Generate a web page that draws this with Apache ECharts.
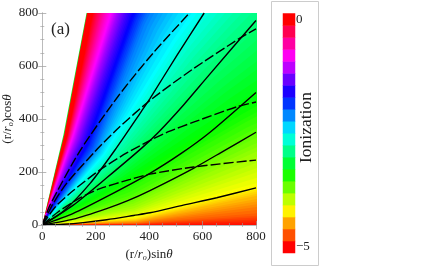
<!DOCTYPE html>
<html><head><meta charset="utf-8">
<style>html,body{margin:0;padding:0;background:#fff}#c{width:429px;height:267px}</style>
<script src="https://cdn.jsdelivr.net/npm/echarts@6/dist/echarts.min.js"></script></head>
<body><div id="c"></div><script>
// Ionization field: slope y/x of each level contour near r~350 and far r~850
const levels = [-3.2,0,
0,-0.05,-0.1,-0.15,-0.2,-0.25,-0.3,-0.35,-0.4,-0.45,
-0.5,-0.55,-0.6,-0.65,-0.7,-0.75,-0.8,-0.85,-0.9,-0.95,
-1,-1.05,-1.1,-1.15,-1.2,-1.25,-1.3,-1.35,-1.4,-1.45,
-1.5,-1.55,-1.6,-1.65,-1.7,-1.75,-1.8,-1.85,-1.9,-1.95,
-2,-2.05,-2.1,-2.15,-2.2,-2.25,-2.3,-2.35,-2.4,-2.45,
-2.5,-2.55,-2.6,-2.65,-2.7,-2.75,-2.8,-2.85,-2.9,-2.95,
-3,-3.05,-3.1,-3.15,-3.2,-3.25,-3.3,-3.35,-3.4,-3.45,
-3.5,-3.55,-3.6,-3.65,-3.7,-3.75,-3.8,-3.85,-3.9,-3.95,
-4,-4.05,-4.1,-4.15,-4.2,-4.25,-4.3,-4.35,-4.4,-4.45,
-4.5,-4.55,-4.6,-4.65,-4.7,-4.75,-4.8,-4.85,-4.9,-4.95,
-5];
const slopeNear = [4.3,4.15,
3.60,3.57,3.54,3.50,3.47,3.43,3.39,3.35,3.31,3.27,
3.24,3.19,3.15,3.10,3.06,3.02,2.98,2.92,2.87,2.80,
2.73,2.66,2.60,2.53,2.46,2.39,2.33,2.26,2.20,2.13,
2.06,2.00,1.93,1.86,1.80,1.75,1.71,1.66,1.61,1.56,
1.52,1.47,1.43,1.40,1.365,1.33,1.30,1.27,1.235,1.20,
1.17,1.13,1.09,1.05,1.02,0.98,0.95,0.90,0.86,0.82,
0.79,0.75,0.72,0.68,0.65,0.61,0.575,0.54,0.50,0.46,
0.42,0.38,0.34,0.31,0.285,0.26,0.235,0.21,0.185,0.165,
0.146,0.129,0.112,0.097,0.082,0.071,0.061,0.054,0.048,0.042,
0.037,0.031,0.026,0.021,0.017,0.014,0.011,0.008,0.005,0.002,
0];
const slopeFar = [4.85,4.8,
4.30,4.23,4.16,4.09,4.01,3.94,3.87,3.80,3.72,3.66,
3.59,3.52,3.46,3.39,3.33,3.26,3.19,3.13,3.08,3.03,
2.98,2.94,2.89,2.85,2.80,2.75,2.70,2.65,2.61,2.56,
2.51,2.46,2.41,2.37,2.32,2.28,2.24,2.20,2.15,2.11,
2.07,2.03,1.98,1.91,1.84,1.77,1.70,1.63,1.57,1.50,
1.43,1.38,1.33,1.28,1.22,1.17,1.12,1.07,1.02,0.97,
0.92,0.87,0.82,0.77,0.73,0.68,0.63,0.59,0.56,0.53,
0.51,0.48,0.455,0.43,0.41,0.385,0.365,0.345,0.32,0.295,
0.27,0.25,0.225,0.20,0.185,0.17,0.16,0.15,0.14,0.125,
0.113,0.10,0.087,0.072,0.057,0.045,0.036,0.027,0.018,0.009,
0];
// Colour bar cells
const barValues = [-5,-4.74,-4.47,-4.21,-3.95,-3.68,-3.42,-3.16,-2.89,-2.63,-2.37,-2.11,-1.84,-1.58,-1.32,-1.05,-0.79,-0.53,-0.26,0];
const barLabels = ['−5','','','','','','','','','','','','','','','','','','','0'];
// Curves
const solid1 = [[0,0],[80,3],[153,9],[241,20],[342,36],[403,46],[528,75],[653,103],[800,140]];
const solid2 = [[0,0],[116,22],[241,62],[320,92],[403,130],[566,214],[680,280],[800,350]];
const solid3 = [[0,0],[116,44],[241,107],[403,195],[520,270],[628,350],[800,500]];
const solid4 = [[0,0],[116,75],[241,178],[372,290],[435,350],[528,452],[616,556],[800,772]];
const solid5 = [[0,0],[79,52],[179,157],[272,283],[371,429],[403,477],[504,640],[606,800]];
const dash1 = [[0,0],[60,50],[141,102],[216,137],[329,172],[403,192],[566,219],[800,245]];
const dash2 = [[0,0],[50,70],[116,130],[216,208],[316,272],[415,325],[472,352],[566,388],[728,446],[800,464]];
const dash3 = [[0,0],[40,80],[91,157],[197,277],[284,365],[403,470],[560,586],[741,706],[800,740]];
const dash4 = [[0,0],[29,75],[140,278],[284,486],[415,649],[551,800]];

const wedgeData = levels.map((v,i)=>[slopeNear[i],slopeFar[i],v]);
const serif = '"Liberation Serif","Times New Roman",serif';
const onRay = (m,r)=>{const x=r/Math.sqrt(1+m*m);return [x,m*x];};
function renderWedge(params,api){
  const pts=[[0,0],onRay(api.value(0),350),onRay(api.value(1),850),onRay(api.value(1),3000),[3000,0]];
  return {type:'polygon',shape:{points:pts.map(p=>api.coord(p))},style:{fill:api.visual('color')}};
}
const line=(d,dashed)=>({type:'line',data:d,xAxisIndex:0,yAxisIndex:0,symbol:'none',smooth:0.25,z:4,clip:true,silent:true,
  lineStyle:{color:'#000',width:1.4,type:dashed?[10,3]:'solid'}});
const frame={lineStyle:{color:'#bbb',width:1}};
const tick={inside:true,length:4,lineStyle:{color:'#999',width:.7}};
const minor={show:true,splitNumber:4,length:2,lineStyle:{color:'#999',width:.6}};
const nameRich={i:{fontFamily:serif,fontStyle:'italic',fontSize:13,color:'#222'},s:{fontFamily:serif,fontStyle:'italic',fontSize:8,color:'#222',padding:[6,0,0,0]},n:{fontFamily:serif,fontSize:13,color:'#222'}};
const axisBase={type:'value',min:0,max:800,interval:200,gridIndex:0,z:5,axisLine:frame,axisTick:tick,minorTick:minor,splitLine:{show:false}};
const chart=echarts.init(document.getElementById('c'),null,{renderer:'canvas'});
chart.setOption({
  animation:false,backgroundColor:'#fff',textStyle:{fontFamily:serif},
  grid:[{left:42.3,top:13,width:213.7,height:212},{left:283,top:13.5,width:12,height:239.5}],
  xAxis:[
    {...axisBase,position:'bottom',name:'{n|(r/}{i|r}{s|o}{n|)sin}{i|θ}',nameLocation:'middle',nameGap:21,nameTextStyle:{rich:nameRich},
     axisLabel:{color:'#222',fontSize:13,margin:5,fontFamily:serif}},
    {...axisBase,position:'top',axisLabel:{show:false}},
    {type:'category',gridIndex:1,data:['c'],axisLine:{show:false},axisTick:{show:false},axisLabel:{show:false}}
  ],
  yAxis:[
    {...axisBase,position:'left',name:'{n|(r/}{i|r}{s|o}{n|)cos}{i|θ}',nameLocation:'middle',nameGap:26,nameRotate:90,nameTextStyle:{rich:nameRich},
     axisLabel:{color:'#222',fontSize:13,margin:4,fontFamily:serif}},
    {...axisBase,position:'right',axisLabel:{show:false}},
    {type:'category',gridIndex:1,position:'right',data:barLabels,axisLine:{show:false},axisTick:{show:false},
     axisLabel:{interval:0,color:'#222',fontSize:13,margin:1,fontFamily:serif,align:'left'}}
  ],
  visualMap:[{type:'continuous',show:false,min:-5,max:0,dimension:2,seriesIndex:[0,10],
    inRange:{color:['#ff0000','#ffff00','#00ff00','#00ffff','#0000ff','#ff00ff','#ff0000']}}],
  series:[
    {type:'custom',renderItem:renderWedge,data:wedgeData,xAxisIndex:0,yAxisIndex:0,clip:true,z:2,silent:true,encode:{x:0,y:1},progressive:0},
    line(solid1),line(solid2),line(solid3),line(solid4),line(solid5),
    line(dash1,true),line(dash2,true),line(dash3,true),line(dash4,true),
    {type:'heatmap',xAxisIndex:2,yAxisIndex:2,data:barValues.map((v,i)=>[0,i,v]),silent:true,progressive:0}
  ],
  graphic:[
    {type:'rect',z:-1,shape:{x:271.5,y:1.5,width:47,height:264},style:{fill:'none',stroke:'#ccc',lineWidth:1}},
    {type:'text',z:50,x:51,y:21,style:{text:'(a)',font:'17px '+serif,fill:'#222'}},
    {type:'text',z:50,x:306,y:127.5,rotation:Math.PI/2,style:{text:'Ionization',font:'17.5px '+serif,fill:'#222',align:'center',verticalAlign:'middle'}}
  ]
});
</script></body></html>
